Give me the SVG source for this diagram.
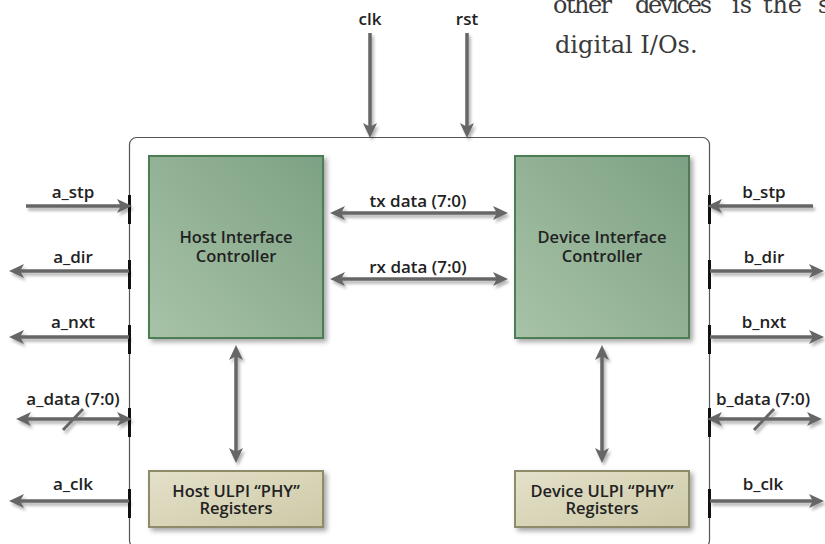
<svg xmlns="http://www.w3.org/2000/svg" width="825" height="544" viewBox="0 0 825 544">
<defs>
<linearGradient id="gGreen" x1="0" y1="1" x2="1" y2="0">
<stop offset="0" stop-color="#a8c3a7"/>
<stop offset="1" stop-color="#7da184"/>
</linearGradient>
<linearGradient id="gBeige" x1="0" y1="0" x2="1" y2="1">
<stop offset="0" stop-color="#e4e1ca"/>
<stop offset="1" stop-color="#cdc9a7"/>
</linearGradient>
<filter id="shBox" x="-10%" y="-10%" width="125%" height="125%">
<feDropShadow dx="3" dy="3" stdDeviation="2.5" flood-color="#000" flood-opacity="0.35"/>
</filter>
<filter id="shArr" x="-20%" y="-20%" width="140%" height="140%">
<feDropShadow dx="2" dy="3" stdDeviation="1.8" flood-color="#000" flood-opacity="0.3"/>
</filter>
<marker id="ah" viewBox="0 0 15 15" refX="10" refY="7.5" markerWidth="15" markerHeight="15" markerUnits="userSpaceOnUse" orient="auto-start-reverse">
<path d="M0,0.5 L15,7.5 L0,14.5 L3.8,7.5 Z" fill="#666"/>
</marker>
</defs>
<style>
.lbl{font-family:"Open Sans","Liberation Sans",sans-serif;font-weight:600;font-size:17px;fill:#222;text-anchor:middle}
.box{font-family:"Open Sans","Liberation Sans",sans-serif;font-weight:600;font-size:16.5px;fill:#222;text-anchor:middle}
.ctl{fill:url(#gGreen);stroke:#4d7d55;stroke-width:2;filter:url(#shBox)}
.phy{fill:url(#gBeige);stroke:#8e8b6b;stroke-width:2;filter:url(#shBox)}
.arr{stroke:#666;stroke-width:3.5;fill:none}
.one{marker-end:url(#ah)}
.two{marker-start:url(#ah);marker-end:url(#ah)}
.tick{stroke:#111;stroke-width:3}
.serif{font-family:"DejaVu Serif","Liberation Serif",serif;font-size:24px;fill:#3a3a3a}
</style>

<text class="serif" x="553" y="13" textLength="59" lengthAdjust="spacing">other</text>
<text class="serif" x="635" y="13" textLength="77" lengthAdjust="spacing">devices</text>
<text class="serif" x="732" y="13">is</text>
<text class="serif" x="763" y="13" textLength="39" lengthAdjust="spacing">the</text>
<text class="serif" x="818" y="13">s</text>
<text class="serif" x="555" y="53">digital I/Os.</text>

<g id="outer">
<rect x="129.5" y="137.5" width="580" height="410" rx="7" fill="none" stroke="#555" stroke-width="1.2"/>
<line class="tick" x1="129.5" y1="195" x2="129.5" y2="224"/>
<line class="tick" x1="129.5" y1="260" x2="129.5" y2="289"/>
<line class="tick" x1="129.5" y1="325" x2="129.5" y2="354"/>
<line class="tick" x1="129.5" y1="408" x2="129.5" y2="437"/>
<line class="tick" x1="129.5" y1="489" x2="129.5" y2="518"/>
<line class="tick" x1="709.5" y1="195" x2="709.5" y2="224"/>
<line class="tick" x1="709.5" y1="260" x2="709.5" y2="289"/>
<line class="tick" x1="709.5" y1="325" x2="709.5" y2="354"/>
<line class="tick" x1="709.5" y1="408" x2="709.5" y2="437"/>
<line class="tick" x1="709.5" y1="489" x2="709.5" y2="518"/>
</g>

<g id="host-ctrl">
<rect class="ctl" x="149" y="156" width="174" height="182"/>
<text class="box" x="236" y="243">Host Interface</text>
<text class="box" x="236" y="262">Controller</text>
</g>
<g id="device-ctrl">
<rect class="ctl" x="515" y="156" width="174" height="182"/>
<text class="box" x="602" y="243">Device Interface</text>
<text class="box" x="602" y="262">Controller</text>
</g>
<g id="host-phy">
<rect class="phy" x="149" y="471" width="174" height="56"/>
<text class="box" x="236" y="497">Host ULPI “PHY”</text>
<text class="box" x="236" y="514">Registers</text>
</g>
<g id="device-phy">
<rect class="phy" x="515" y="471" width="174" height="56"/>
<text class="box" x="602" y="497">Device ULPI “PHY”</text>
<text class="box" x="602" y="514">Registers</text>
</g>

<g id="connectors" filter="url(#shArr)">
<line class="arr one" x1="370" y1="33" x2="370" y2="133"/>
<line class="arr one" x1="467" y1="33" x2="467" y2="133"/>
<line class="arr two" x1="335" y1="213" x2="503" y2="213"/>
<line class="arr two" x1="335" y1="279" x2="503" y2="279"/>
<line class="arr two" x1="236" y1="350" x2="236" y2="458"/>
<line class="arr two" x1="602" y1="350" x2="602" y2="458"/>
<line class="arr one" x1="26" y1="206" x2="127" y2="206"/>
<line class="arr one" x1="129" y1="271" x2="14" y2="271"/>
<line class="arr one" x1="129" y1="337" x2="14" y2="337"/>
<line class="arr two" x1="21" y1="419" x2="127" y2="419"/>
<line x1="63" y1="430" x2="83" y2="409" stroke="#666" stroke-width="3"/>
<line class="arr one" x1="129" y1="501" x2="14" y2="501"/>
<line class="arr one" x1="813" y1="206" x2="712" y2="206"/>
<line class="arr one" x1="710" y1="271" x2="819" y2="271"/>
<line class="arr one" x1="710" y1="337" x2="819" y2="337"/>
<line class="arr two" x1="712" y1="419" x2="817" y2="419"/>
<line x1="754" y1="430" x2="774" y2="409" stroke="#666" stroke-width="3"/>
<line class="arr one" x1="710" y1="501" x2="819" y2="501"/>
</g>

<g id="labels">
<text class="lbl" x="370" y="25">clk</text>
<text class="lbl" x="467" y="25">rst</text>
<text class="lbl" x="418" y="207">tx data (7:0)</text>
<text class="lbl" x="418" y="273">rx data (7:0)</text>
<text class="lbl" x="73" y="198">a_stp</text>
<text class="lbl" x="73" y="263">a_dir</text>
<text class="lbl" x="73" y="328">a_nxt</text>
<text class="lbl" x="73" y="405">a_data (7:0)</text>
<text class="lbl" x="73" y="490">a_clk</text>
<text class="lbl" x="764" y="198">b_stp</text>
<text class="lbl" x="764" y="263">b_dir</text>
<text class="lbl" x="764" y="328">b_nxt</text>
<text class="lbl" x="763" y="405">b_data (7:0)</text>
<text class="lbl" x="763" y="490">b_clk</text>
</g>
</svg>
